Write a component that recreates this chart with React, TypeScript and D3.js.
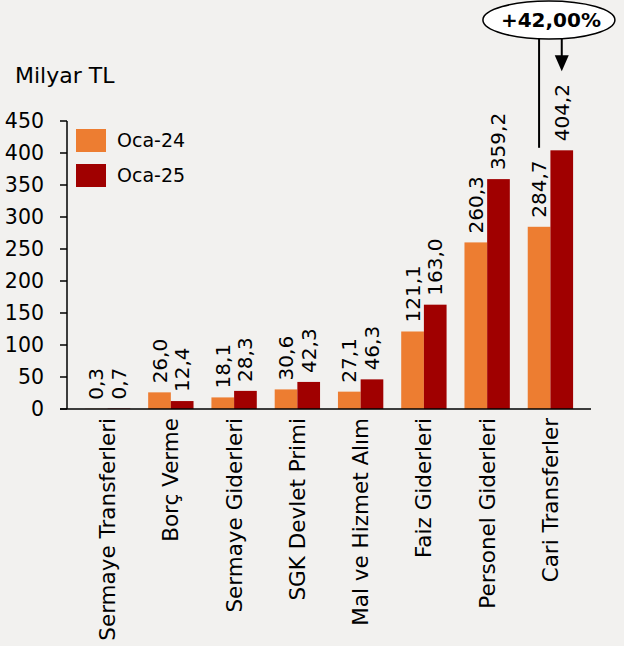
import React from "react";
import * as d3 from "d3";

const categories = [
  "Sermaye Transferleri",
  "Borç Verme",
  "Sermaye Giderleri",
  "SGK Devlet Primi",
  "Mal ve Hizmet Alım",
  "Faiz Giderleri",
  "Personel Giderleri",
  "Cari Transferler",
];
const seriesNames = ["Oca-24", "Oca-25"];
const oca24 = [0.3, 26.0, 18.1, 30.6, 27.1, 121.1, 260.3, 284.7];
const oca25 = [0.7, 12.4, 28.3, 42.3, 46.3, 163.0, 359.2, 404.2];
const yTicks = [0, 50, 100, 150, 200, 250, 300, 350, 400, 450];
const unitLabel = "Milyar TL";
const changeLabel = "+42,00%";

const W = 624;
const H = 646;
const FONT = "'DejaVu Sans', sans-serif";
const colors = ["#ED7D31", "#A00000"];

export default function App() {
  const x = d3.scaleBand<string>().domain(categories).range([67, 591]).padding(0.283);
  const inner = d3.scaleBand<string>().domain(seriesNames).range([0, x.bandwidth()]);
  const y = d3.scaleLinear().domain([0, 450]).range([409, 121]);
  const fmt = (v: number) => v.toFixed(1).replace(".", ",");
  const series = [oca24, oca25];
  const labelGap = 9;
  const labelLen = 57;

  const last = categories.length - 1;
  const lastCat = categories[last];
  const xo = (x(lastCat) ?? 0) + (inner(seriesNames[0]) ?? 0) + inner.bandwidth() / 2;
  const xr = (x(lastCat) ?? 0) + (inner(seriesNames[1]) ?? 0) + inner.bandwidth() / 2;
  const lineEnd = y(oca24[last]) - labelGap - labelLen - 13;
  const arrowEnd = y(oca25[last]) - labelGap - labelLen - 13;
  const ex = (x(lastCat) ?? 0) + x.bandwidth() / 2 - 1.5;

  return (
    <svg
      width={W}
      height={H}
      style={{ position: "fixed", left: 0, top: 0, background: "#f2f1ef" }}
      fontFamily={FONT}
    >
      <rect x={0} y={0} width={W} height={H} fill="#f2f1ef" />
      <text x={15} y={83} fontSize={22} fill="#000">{unitLabel}</text>

      {/* y axis */}
      <line x1={67} x2={67} y1={y(450)} y2={y(0)} stroke="#000" strokeWidth={1.5} />
      {yTicks.map((t) => (
        <g key={t}>
          <line x1={60} x2={67} y1={y(t)} y2={y(t)} stroke="#000" strokeWidth={1.5} />
          <text x={44} y={y(t)} dy="0.35em" textAnchor="end" fontSize={20.5} fill="#000">
            {t}
          </text>
        </g>
      ))}

      {/* bars */}
      {categories.map((c, i) => (
        <g key={c}>
          {series.map((s, k) => {
            const bx = (x(c) ?? 0) + (inner(seriesNames[k]) ?? 0);
            const cx = bx + inner.bandwidth() / 2;
            return (
              <g key={k}>
                <rect
                  x={bx}
                  y={y(s[i])}
                  width={inner.bandwidth()}
                  height={y(0) - y(s[i])}
                  fill={colors[k]}
                />
                <text
                  transform={`translate(${cx},${y(s[i]) - labelGap}) rotate(-90)`}
                  dy="0.35em"
                  fontSize={20}
                  fill="#000"
                >
                  {fmt(s[i])}
                </text>
              </g>
            );
          })}
          <text
            transform={`translate(${(x(c) ?? 0) + x.bandwidth() / 2},${y(0) + 9}) rotate(-90)`}
            dy="0.35em"
            textAnchor="end"
            fontSize={21.5}
            fill="#000"
          >
            {c}
          </text>
        </g>
      ))}

      {/* x axis */}
      <line x1={60} x2={591} y1={y(0)} y2={y(0)} stroke="#000" strokeWidth={1.5} />

      {/* legend */}
      {seriesNames.map((n, k) => (
        <g key={n} transform={`translate(76,${129 + k * 35})`}>
          <rect x={0} y={0} width={30} height={23} fill={colors[k]} />
          <text x={41} y={11.5} dy="0.35em" fontSize={19} fill="#000">
            {n}
          </text>
        </g>
      ))}

      {/* annotation */}
      <line x1={xo} x2={xo} y1={38} y2={lineEnd} stroke="#000" strokeWidth={2} />
      <line x1={xr} x2={xr} y1={38} y2={arrowEnd - 14} stroke="#000" strokeWidth={2} />
      <path
        d={`M${xr - 7},${arrowEnd - 16} L${xr + 7},${arrowEnd - 16} L${xr},${arrowEnd} Z`}
        fill="#000"
      />
      <ellipse cx={ex} cy={20} rx={66} ry={19} fill="#fff" stroke="#000" strokeWidth={1.5} />
      <text x={ex + 2} y={20} dy="0.35em" textAnchor="middle" fontSize={20} fontWeight="bold" fill="#000">
        {changeLabel}
      </text>
    </svg>
  );
}
